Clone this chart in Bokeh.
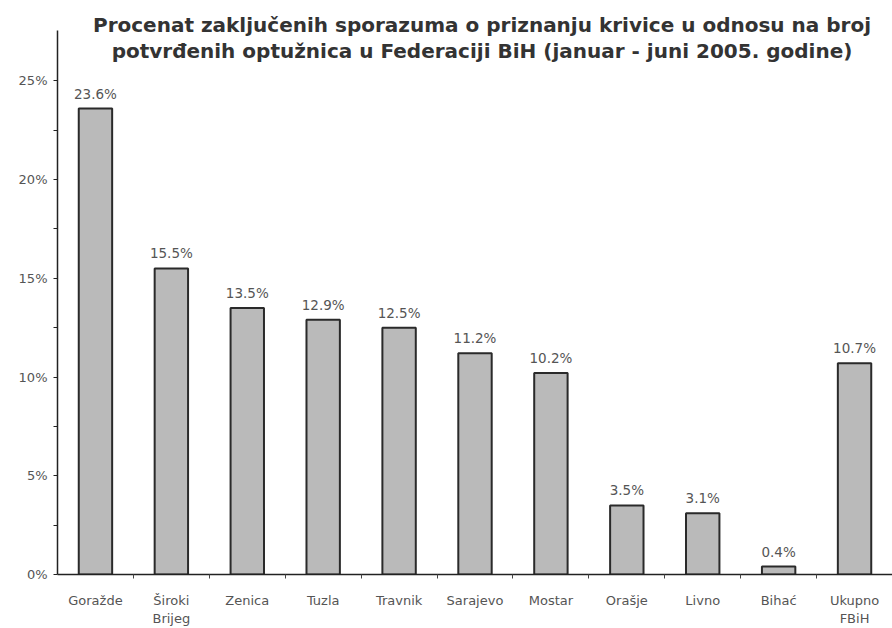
from bokeh.plotting import figure
from bokeh.models import FixedTicker, Range1d, Label, ColumnDataSource
from bokeh.core.properties import value
from bokeh.embed import file_html
from bokeh.resources import INLINE

categories = ["Goražde", "Široki\nBrijeg", "Zenica", "Tuzla", "Travnik", "Sarajevo",
              "Mostar", "Orašje", "Livno", "Bihać", "Ukupno\nFBiH"]
values = [23.6, 15.5, 13.5, 12.9, 12.5, 11.2, 10.2, 3.5, 3.1, 0.4, 10.7]
y_ticks = [0, 5, 10, 15, 20, 25]
y_tick_labels = ["0%", "5%", "10%", "15%", "20%", "25%"]
title_lines = ["Procenat zaključenih sporazuma o priznanju krivice u odnosu na broj",
               "potvrđenih optužnica u Federaciji BiH (januar - juni 2005. godine)"]

n = len(categories)
centers = [i + 0.5 for i in range(n)]
labels = ["%.1f%%" % v for v in values]
src = ColumnDataSource(dict(x=centers, top=values, lab=labels))

p = figure(width=892, height=628, output_backend="svg", toolbar_location=None,
           x_range=Range1d(0, n), y_range=Range1d(0, 29.07),
           min_border_left=57, min_border_right=0, min_border_top=0, min_border_bottom=50)
p.outline_line_color = None
p.xgrid.visible = False
p.ygrid.visible = False
p.background_fill_color = "white"
p.border_fill_color = "white"

p.vbar(x="x", top="top", width=0.44, source=src, fill_color="#bababa",
       line_color="#2a2a2a", line_width=2)

p.text(x="x", y="top", text="lab", source=src, text_align="center", text_baseline="bottom",
       y_offset=-7, text_font=value("DejaVu Sans"), text_font_size="13.5px", text_color="#555555")

# y axis
p.yaxis.bounds = (0, 27.55)
p.yaxis.ticker = FixedTicker(ticks=y_ticks, minor_ticks=[2.5, 7.5, 12.5, 17.5, 22.5])
p.yaxis.major_label_overrides = {t: l for t, l in zip(y_ticks, y_tick_labels)}
p.yaxis.axis_line_color = "#222222"
p.yaxis.axis_line_width = 1.5
p.yaxis.major_tick_in = 0
p.yaxis.major_tick_out = 4
p.yaxis.minor_tick_in = 0
p.yaxis.minor_tick_out = 4
p.yaxis.major_tick_line_color = "#222222"
p.yaxis.minor_tick_line_color = "#222222"
p.yaxis.major_label_text_font = "DejaVu Sans"
p.yaxis.major_label_text_font_size = "13px"
p.yaxis.major_label_text_color = "#555555"
p.yaxis.major_label_standoff = 6

# x axis
p.xaxis.ticker = FixedTicker(ticks=centers, minor_ticks=list(range(1, n)))
p.xaxis.major_label_overrides = {c: l for c, l in zip(centers, categories)}
p.xaxis.axis_line_color = "#222222"
p.xaxis.axis_line_width = 1.5
p.xaxis.major_tick_in = 0
p.xaxis.major_tick_out = 0
p.xaxis.minor_tick_in = 0
p.xaxis.minor_tick_out = 4
p.xaxis.minor_tick_line_color = "#444444"
p.xaxis.major_label_text_font = "DejaVu Sans"
p.xaxis.major_label_text_font_size = "13px"
p.xaxis.major_label_text_color = "#555555"
p.xaxis.major_label_standoff = 14

for line, yv in zip(title_lines, [27.81, 26.5]):
    p.add_layout(Label(x=n / 2, y=yv, x_offset=7, text=line, text_align="center",
                       text_baseline="alphabetic", text_font="DejaVu Sans",
                       text_font_style="bold", text_font_size="20px", text_color="#333333"))

open("out.html", "w").write(file_html(p, INLINE))
